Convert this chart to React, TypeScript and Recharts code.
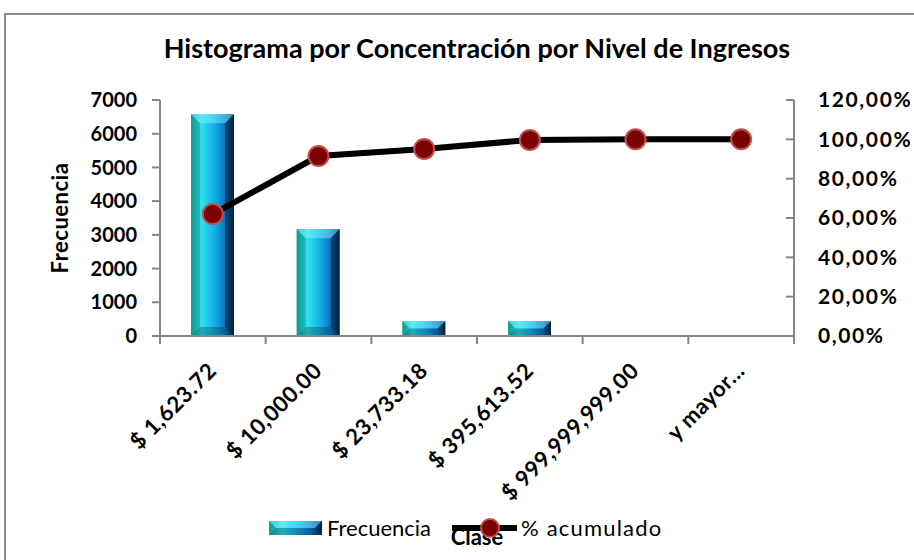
import { ComposedChart, Bar, Line, XAxis, YAxis } from 'recharts';

const clases = ['$ 1,623.72', '$ 10,000.00', '$ 23,733.18', '$ 395,613.52', '$ 999,999,999.00', 'y mayor...'];
const frecuencia = [6580, 3170, 440, 440, 20, 0];
const acumulado = [0.62, 0.915, 0.951, 0.997, 1.0, 1.0];
const frecuenciaTicks = [0, 1000, 2000, 3000, 4000, 5000, 6000, 7000];
const acumuladoTicks = [0, 0.2, 0.4, 0.6, 0.8, 1.0, 1.2];

const data = clases.map((clase, i) => ({
    clase,
    frecuencia: frecuencia[i],
    acumulado: acumulado[i],
}));

const FONT = 'Lato, "Open Sans", sans-serif';
const AXIS = '#868686';
const PLOT_LEFT = 160;
const PLOT_RIGHT = 794;

const fmtPct = (v: number) => (v * 100).toFixed(2).replace('.', ',') + '%';

// bar drawn like Excel's beveled cylinder
const BevelBar = (props: any) => {
    const { x, y, width: w, height: h } = props;
    if (!h || h <= 0) return null;
    const b = Math.min(9, h / 2, w / 2);
    return (
        <g>
            <rect x={x} y={y} width={w} height={h} fill="url(#barGrad)" />
            <polygon points={`${x},${y} ${x + w},${y} ${x + w - b},${y + b} ${x + b},${y + b}`} fill="#8ff4ff" fillOpacity={0.45} />
            <polygon points={`${x},${y + h} ${x + w},${y + h} ${x + w - b},${y + h - b} ${x + b},${y + h - b}`} fill="#003040" fillOpacity={0.3} />
            <polygon points={`${x},${y} ${x + b},${y + b} ${x + b},${y + h - b} ${x},${y + h}`} fill="#0a8a80" fillOpacity={0.35} />
            <polygon points={`${x + w},${y} ${x + w - b},${y + b} ${x + w - b},${y + h - b} ${x + w},${y + h}`} fill="#001830" fillOpacity={0.45} />
        </g>
    );
};

const ClaseTick = ({ x, y, payload, index }: any) => {
    const w = (PLOT_RIGHT - PLOT_LEFT) / clases.length;
    return (
        <g>
            <line x1={x - w / 2} y1={y} x2={x - w / 2} y2={y + 8} stroke={AXIS} strokeWidth={2} />
            {index === clases.length - 1 && (
                <line x1={x + w / 2} y1={y} x2={x + w / 2} y2={y + 8} stroke={AXIS} strokeWidth={2} />
            )}
            <text
                x={x + 5}
                y={y + 36}
                transform={`rotate(-45, ${x + 5}, ${y + 36})`}
                textAnchor="end"
                fontFamily={FONT}
                fontWeight="bold"
                fontSize={22}
                letterSpacing={0.6}
                fill="#000"
            >
                {payload.value}
            </text>
        </g>
    );
};

const PctTick = ({ x, y, payload }: any) => (
    <g>
        <line x1={x - 24 - 8} y1={y} x2={x - 24} y2={y} stroke={AXIS} strokeWidth={2} />
        <text x={x} y={y} dy="0.35em" textAnchor="start" fontFamily={FONT} fontWeight="bold" fontSize={21} letterSpacing={1.6} fill="#000">
            {fmtPct(payload.value)}
        </text>
    </g>
);

export default function App() {
    return (
        <div style={{ position: 'absolute', left: 0, top: 0, width: 914, height: 560, overflow: 'hidden', background: '#fff' }}>
            <div style={{ position: 'absolute', left: 4, top: 13, width: 1000, height: 1000, border: '2px solid #8b8b8b' }} />
            <ComposedChart
                width={914}
                height={560}
                data={data}
                margin={{ top: 100, right: 20, bottom: 0, left: 100 }}
                style={{ position: 'absolute', left: 0, top: 0 }}
            >
                <defs>
                    <linearGradient id="barGrad" x1="0" y1="0" x2="1" y2="0">
                        <stop offset="0%" stopColor="#17a39a" />
                        <stop offset="25%" stopColor="#2de3ea" />
                        <stop offset="55%" stopColor="#12aee6" />
                        <stop offset="80%" stopColor="#0a70c0" />
                        <stop offset="100%" stopColor="#02284a" />
                    </linearGradient>
                </defs>
                <text x={477} y={58} textAnchor="middle" fontFamily={FONT} fontWeight="bold" fontSize={27} fill="#000">
                    Histograma por Concentración por Nivel de Ingresos
                </text>
                <XAxis
                    dataKey="clase"
                    height={224}
                    interval={0}
                    tickSize={0}
                    tickMargin={0}
                    tickLine={false}
                    axisLine={{ stroke: AXIS, strokeWidth: 2 }}
                    tick={<ClaseTick />}
                    label={{ value: 'Clase', position: 'insideBottom', offset: 15, fontFamily: FONT, fontWeight: 'bold', fontSize: 22, fill: '#000' }}
                />
                <YAxis
                    yAxisId="left"
                    width={60}
                    domain={[0, 7000]}
                    ticks={frecuenciaTicks}
                    interval={0}
                    tickSize={8}
                    tickMargin={15}
                    axisLine={{ stroke: AXIS, strokeWidth: 2 }}
                    tickLine={{ stroke: AXIS, strokeWidth: 2 }}
                    tick={{ fontFamily: FONT, fontWeight: 'bold', fontSize: 20, fill: '#000' }}
                />
                <YAxis
                    yAxisId="right"
                    orientation="right"
                    width={100}
                    domain={[0, 1.2]}
                    ticks={acumuladoTicks}
                    interval={0}
                    tickSize={0}
                    tickMargin={24}
                    tickLine={false}
                    axisLine={{ stroke: AXIS, strokeWidth: 2 }}
                    tick={<PctTick />}
                />
                <Bar yAxisId="left" dataKey="frecuencia" barSize={43} shape={<BevelBar />} isAnimationActive={false} />
                <Line
                    yAxisId="right"
                    type="linear"
                    dataKey="acumulado"
                    stroke="#000"
                    strokeWidth={6}
                    dot={{ r: 10, fill: '#7b0000', stroke: '#c0504d', strokeWidth: 2 }}
                    isAnimationActive={false}
                />
            </ComposedChart>
            <svg width={914} height={560} style={{ position: 'absolute', left: 0, top: 0, pointerEvents: 'none' }}>
                <text
                    x={68}
                    y={218}
                    transform="rotate(-90, 68, 218)"
                    textAnchor="middle"
                    fontFamily={FONT}
                    fontWeight="bold"
                    fontSize={22}
                    letterSpacing={0.5}
                    fill="#000"
                >
                    Frecuencia
                </text>
                <BevelBar x={269} y={521} width={53} height={14} />
                <text x={327} y={536} fontFamily={FONT} fontSize={22} fill="#000">Frecuencia</text>
                <line x1={452} y1={528} x2={517} y2={528} stroke="#000" strokeWidth={6} />
                <circle cx={490} cy={528} r={9} fill="#7b0000" stroke="#c0504d" strokeWidth={2} />
                <text x={521} y={536} fontFamily={FONT} fontSize={22} letterSpacing={1.2} fill="#000">% acumulado</text>
            </svg>
        </div>
    );
}
